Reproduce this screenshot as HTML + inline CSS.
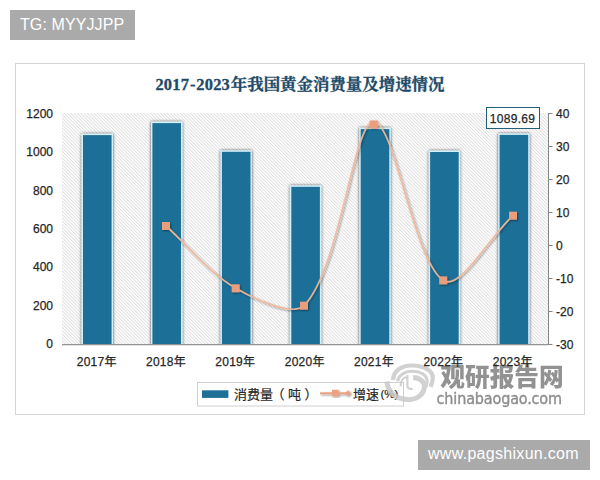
<!DOCTYPE html>
<html lang="zh-CN">
<head>
<meta charset="utf-8">
<title>2017-2023年我国黄金消费量及增速情况</title>
<style>
html,body{margin:0;padding:0;background:#fff;}
body{width:600px;height:480px;position:relative;overflow:hidden;font-family:"Liberation Sans","Noto Sans CJK SC",sans-serif;}
.tag{position:absolute;background:#aaaaaa;color:#fff;font-size:16px;line-height:30px;height:30px;white-space:nowrap;}
#tg{left:10px;top:10px;width:125px;}
#tg span{position:absolute;left:10px;top:0;letter-spacing:0.1px;}
#site{left:418px;top:440px;width:172px;}
#site span{position:absolute;left:10px;top:-1px;letter-spacing:0.3px;}
#frame{position:absolute;left:15px;top:63px;width:568px;height:350px;border:1px solid #d4d4d4;background:#fff;}
svg{position:absolute;left:0;top:0;}
.ax{font-family:"Liberation Sans","Noto Sans CJK SC",sans-serif;font-size:12px;fill:#262626;stroke:#262626;stroke-width:0.25px;}
.xl text{letter-spacing:0.25px;}
.ttl{font-family:"Liberation Serif","Noto Serif CJK SC",serif;font-weight:bold;font-size:16.45px;fill:#1d4a68;stroke:#1d4a68;stroke-width:0.3px;}
.lg{font-family:"Liberation Sans","Noto Sans CJK SC",sans-serif;font-size:13px;fill:#262626;stroke:#262626;stroke-width:0.2px;}
</style>
</head>
<body>
<div id="tg" class="tag"><span>TG: MYYJJPP</span></div>
<div id="frame"></div>
<svg width="600" height="480" viewBox="0 0 600 480">
  <defs>
    <pattern id="hatch" width="2.35" height="2.35" patternUnits="userSpaceOnUse" patternTransform="rotate(-45)">
      <rect width="2.35" height="2.35" fill="#fff"/>
      <rect width="0.92" height="2.35" fill="#dddddd"/>
    </pattern>
    <filter id="sh" x="-30%" y="-10%" width="160%" height="120%">
      <feGaussianBlur in="SourceAlpha" stdDeviation="1.6"/>
      <feComponentTransfer><feFuncA type="linear" slope="0.75"/></feComponentTransfer>
      <feMerge><feMergeNode/><feMergeNode in="SourceGraphic"/></feMerge>
    </filter>
    <filter id="sh2" x="-20%" y="-20%" width="140%" height="140%">
      <feGaussianBlur in="SourceAlpha" stdDeviation="1"/>
      <feOffset dx="0.5" dy="0.8"/>
      <feComponentTransfer><feFuncA type="linear" slope="0.45"/></feComponentTransfer>
      <feMerge><feMergeNode/><feMergeNode in="SourceGraphic"/></feMerge>
    </filter>
  </defs>

  <!-- title -->
  <text class="ttl" x="155.4" y="89.6"><tspan letter-spacing="0.2">2017</tspan><tspan dx="0.8">-</tspan><tspan dx="1" letter-spacing="0.2">2023</tspan><tspan x="230.8">年我国黄金消费量及增速情况</tspan></text>

  <!-- plot area -->
  <rect x="62" y="113" width="486.5" height="231" fill="url(#hatch)"/>

  <!-- bars -->
  <g filter="url(#sh)" fill="#1f7097" stroke="#d2f1fb" stroke-width="1.4">
    <rect x="82.3" y="134.4" width="30" height="213.0"/>
    <rect x="151.7" y="122.4" width="30" height="225.0"/>
    <rect x="221.2" y="151.1" width="30" height="196.3"/>
    <rect x="290.6" y="186.1" width="30" height="161.3"/>
    <rect x="360" y="128.4" width="30" height="219.0"/>
    <rect x="429.4" y="151.3" width="30" height="196.1"/>
    <rect x="498.9" y="134.2" width="30" height="213.2"/>
  </g>
  <!-- mask bar overflow under axis -->
  <rect x="56" y="345" width="500" height="8" fill="#fff"/>

  <!-- axes -->
  <line x1="62" y1="344.6" x2="548" y2="344.6" stroke="#959595" stroke-width="1.2"/>
  <g stroke="#858585" stroke-width="1" fill="none">
    <line x1="548.5" y1="113" x2="548.5" y2="345"/>
    <path d="M548.5,113.5h4 M548.5,146.5h4 M548.5,179.5h4 M548.5,212.5h4 M548.5,245.5h4 M548.5,278.5h4 M548.5,311.5h4 M548.5,344.5h4"/>
  </g>

  <!-- left axis labels -->
  <g class="ax" text-anchor="end">
    <text x="53" y="117.8">1200</text>
    <text x="53" y="156.2">1000</text>
    <text x="53" y="194.6">800</text>
    <text x="53" y="233.0">600</text>
    <text x="53" y="271.4">400</text>
    <text x="53" y="309.8">200</text>
    <text x="53" y="348.2">0</text>
  </g>
  <!-- right axis labels -->
  <g class="ax" text-anchor="start">
    <text x="556" y="118">40</text>
    <text x="556" y="151">30</text>
    <text x="556" y="184">20</text>
    <text x="556" y="217">10</text>
    <text x="556" y="250">0</text>
    <text x="556" y="283">-10</text>
    <text x="556" y="316">-20</text>
    <text x="556" y="349">-30</text>
  </g>
  <!-- line series -->
  <g filter="url(#sh2)">
    <path d="M166,226 C189.2,246.8 209.5,273.2 235.7,288.3 C255.5,299.7 293,316.5 304,305.7 C340.8,267.4 353.5,122.3 373.4,121.6 C394.5,121 413.6,260.5 443.2,280.4 C459.7,291.2 489.4,237.5 512.8,215.7" fill="none" stroke="#f0b89c" stroke-width="1.7" stroke-opacity="0.93" stroke-linejoin="round" stroke-linecap="round"/>
    <g fill="#ea9e7b">
      <rect x="162" y="222" width="8" height="8"/>
      <rect x="231.7" y="284.3" width="8" height="8"/>
      <rect x="300" y="301.7" width="8" height="8"/>
      <rect x="369.6" y="120.5" width="8" height="8"/>
      <rect x="439.2" y="276.4" width="8" height="8"/>
      <rect x="509" y="211.7" width="8" height="8"/>
    </g>
  </g>

  <!-- data label -->
  <rect x="486.5" y="107.5" width="53" height="21" fill="#fff" stroke="#1f5f7d" stroke-width="1"/>
  <text class="ax" x="512.6" y="123" text-anchor="middle" letter-spacing="0.3">1089.69</text>

  <!-- legend -->
  <rect x="197.5" y="382.5" width="206" height="23.5" fill="#fff" stroke="#cfcfcf" stroke-width="1"/>
  <rect x="202" y="390.3" width="26.4" height="7.6" fill="#1f7097"/>
  <text class="lg" y="398.6"><tspan x="234">消费量</tspan><tspan x="271.5">（</tspan><tspan x="288">吨</tspan><tspan x="304.6">）</tspan></text>
  <g filter="url(#sh2)">
    <line x1="320" y1="393.3" x2="349" y2="393.3" stroke="#eaa282" stroke-width="2"/>
    <rect x="332" y="389.8" width="6.6" height="6.6" fill="#eaa282"/>
    <path d="M348,390.3 l3,3 l-3,3 l-3,-3z" fill="#eaa282"/>
  </g>
  <text class="lg" y="398.6"><tspan x="353">增速</tspan><tspan x="380.5" font-size="11.5" dy="-0.3">(%)</tspan></text>

  <!-- watermark -->
  <g opacity="0.85">
    <g fill="none" stroke="#c9c9c9" stroke-linecap="butt">
      <path d="M393,379.8 C393.5,371 401.5,365.3 412.5,365.5 C424,365.8 433.2,370.8 432.8,378 C432.6,381 431.8,384 430.6,386.8" stroke-width="4.2"/>
      <path d="M397.6,381.2 C398.6,375.2 404.5,371.2 412.5,371.2 C420.5,371.2 426.6,375 427.1,380 C427.3,383 426.8,385 426.1,387.2" stroke-width="3"/>
      <path d="M386.8,381.5 C387.6,391 395,398.8 407,399.6 C417.2,400.2 424,394 424.4,387 C424.7,382 420.2,378 413.2,377.6" stroke-width="5"/>
      <path d="M400.6,386.4 C400.4,380.6 403.4,377.4 407.4,377.2 M407.4,375 V386 C407.4,388.4 410,389.5 412.6,388.4" stroke-width="2.2"/>
    </g>
    <text x="440.3" y="385.8" font-family="'Liberation Sans','Noto Sans CJK SC',sans-serif" font-weight="900" font-size="24.7" fill="#808080">观研报告网</text>
    <text x="436.6" y="403.5" font-family="'DejaVu Sans Condensed','Liberation Sans',sans-serif" font-size="16" letter-spacing="-0.15" fill="#787878" stroke="#787878" stroke-width="0.35">chinabaogao.com</text>
  </g>
  <!-- x labels -->
  <g class="ax xl" text-anchor="middle">
    <text x="96.7" y="365.7">2017年</text>
    <text x="166.0" y="365.7">2018年</text>
    <text x="235.3" y="365.7">2019年</text>
    <text x="304.7" y="365.7">2020年</text>
    <text x="374.0" y="365.7">2021年</text>
    <text x="443.4" y="365.7">2022年</text>
    <text x="512.7" y="365.7">2023年</text>
  </g>
</svg>
<div id="site" class="tag"><span>www.pagshixun.com</span></div>
</body>
</html>
